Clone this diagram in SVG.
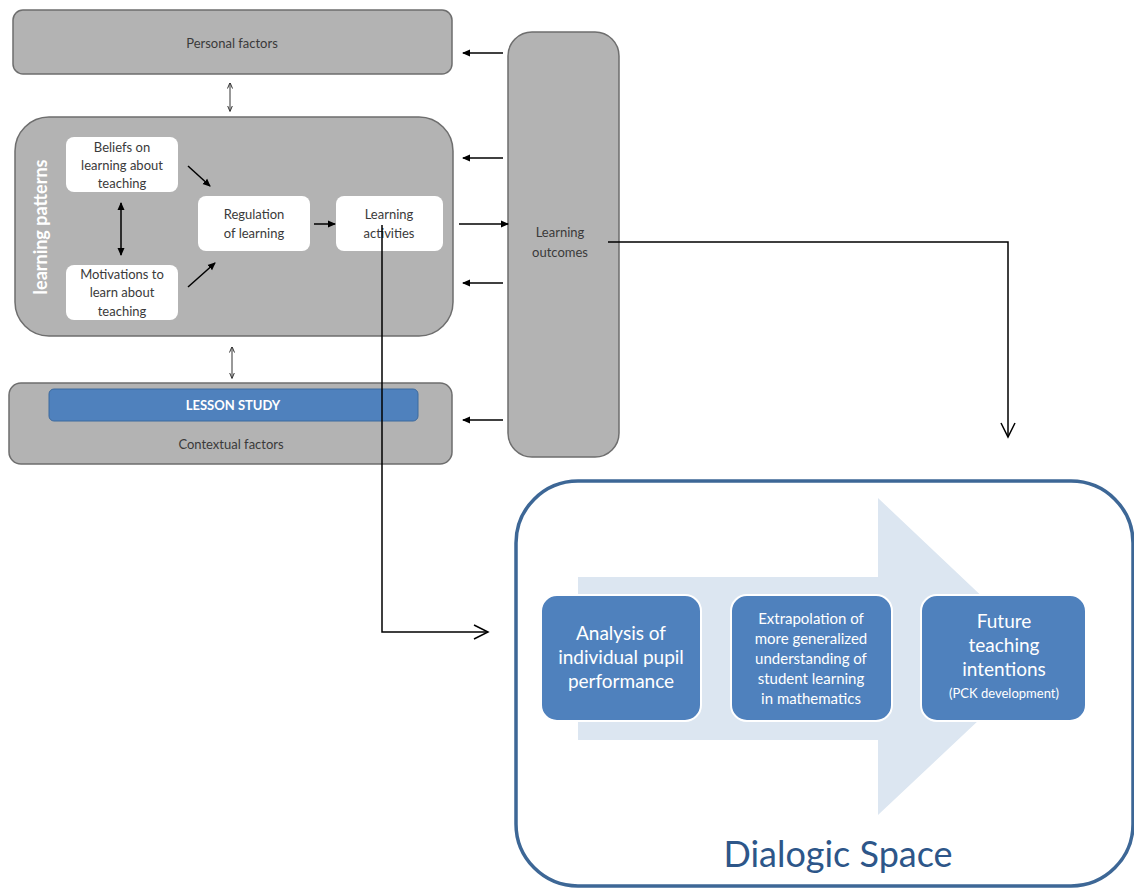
<svg xmlns="http://www.w3.org/2000/svg" width="1134" height="889" viewBox="0 0 1134 889">
<style>
.gray{fill:#b3b3b3;stroke:#6e6e6e;stroke-width:1.5}
.white{fill:#ffffff;stroke:none}
.t{font-family:Lato,"Liberation Sans",sans-serif;fill:#3a3a3a;text-anchor:middle}
.s{font-size:13px}
.b{font-family:Lato,"Liberation Sans",sans-serif;fill:#ffffff;text-anchor:middle;font-weight:bold}
.ln{stroke:#000;stroke-width:1.5;fill:none}
.thin{stroke:#333;stroke-width:1;fill:none}
</style>
<defs>
<marker id="ah" markerWidth="8" markerHeight="8" refX="7" refY="4" orient="auto" markerUnits="userSpaceOnUse"><path d="M0,0.5 L8,4 L0,7.5 Z" fill="#000"/></marker>
<marker id="ahs" markerWidth="6" markerHeight="6" refX="5.5" refY="3" orient="auto-start-reverse" markerUnits="userSpaceOnUse"><path d="M0,0.5 L6,3 L0,5.5" fill="none" stroke="#333" stroke-width="1"/></marker>
<marker id="ahb" markerWidth="8" markerHeight="8" refX="7" refY="4" orient="auto-start-reverse" markerUnits="userSpaceOnUse"><path d="M0,0.5 L8,4 L0,7.5 Z" fill="#000"/></marker>
<marker id="open" markerWidth="18" markerHeight="16" refX="16" refY="8" orient="auto" markerUnits="userSpaceOnUse"><path d="M2,1 L16,8 L2,15" fill="none" stroke="#000" stroke-width="1.5"/></marker>
</defs>

<g id="personal">
<rect class="gray" x="13" y="10" width="439" height="64" rx="10"/>
<text class="t s" x="232" y="48">Personal factors</text>
</g>

<g id="learning-patterns">
<rect class="gray" x="15" y="117" width="438" height="219" rx="34"/>
<text class="b" font-size="18" transform="translate(47,227) rotate(-90)">learning patterns</text>
</g>

<g id="beliefs">
<rect class="white" x="66" y="137" width="112" height="55" rx="8"/>
<text class="t s" x="122" y="152">Beliefs on</text>
<text class="t s" x="122" y="170">learning about</text>
<text class="t s" x="122" y="188">teaching</text>
</g>

<g id="motivations">
<rect class="white" x="66" y="265" width="112" height="55" rx="8"/>
<text class="t s" x="122" y="279">Motivations to</text>
<text class="t s" x="122" y="297">learn about</text>
<text class="t s" x="122" y="316">teaching</text>
</g>

<g id="regulation">
<rect class="white" x="198" y="196" width="112" height="55" rx="8"/>
<text class="t s" x="254" y="219">Regulation</text>
<text class="t s" x="254" y="238">of learning</text>
</g>

<g id="activities">
<rect class="white" x="336" y="196" width="107" height="55" rx="8"/>
<text class="t s" x="389" y="219">Learning</text>
<text class="t s" x="389" y="238">activities</text>
</g>

<g id="contextual">
<rect class="gray" x="9" y="383" width="443" height="81" rx="12"/>
<rect x="49" y="389" width="369" height="32" rx="5" fill="#4f81bd" stroke="#3d6a9e" stroke-width="1"/>
<text class="b" font-size="13" x="233" y="410">LESSON STUDY</text>
<text class="t s" x="231" y="449">Contextual factors</text>
</g>

<g id="outcomes">
<rect class="gray" x="508" y="32" width="111" height="425" rx="24"/>
<text class="t s" x="560" y="237">Learning</text>
<text class="t s" x="560" y="257">outcomes</text>
</g>

<g id="dialogic">
<rect x="516" y="481" width="617" height="405" rx="62" fill="#fff" stroke="#3d6796" stroke-width="3.5"/>
<path d="M578,577 L878,577 L878,498 L1046,657 L878,815 L878,740 L578,740 Z" fill="#dce6f1"/>
<rect x="541" y="595" width="160" height="126" rx="16" fill="#4f81bd" stroke="#fff" stroke-width="2"/>
<rect x="731" y="595" width="161" height="126" rx="16" fill="#4f81bd" stroke="#fff" stroke-width="2"/>
<rect x="921" y="595" width="165" height="126" rx="16" fill="#4f81bd" stroke="#fff" stroke-width="2"/>
<g font-family="Lato,'Open Sans','Liberation Sans',sans-serif" fill="#fff" text-anchor="middle">
<text x="621" y="640" font-size="19">Analysis of</text>
<text x="621" y="664" font-size="19">individual pupil</text>
<text x="621" y="688" font-size="19">performance</text>
<text x="811" y="624" font-size="15">Extrapolation of</text>
<text x="811" y="644" font-size="15">more generalized</text>
<text x="811" y="664" font-size="15">understanding of</text>
<text x="811" y="684" font-size="15">student learning</text>
<text x="811" y="704" font-size="15">in mathematics</text>
<text x="1004" y="628" font-size="19">Future</text>
<text x="1004" y="652" font-size="19">teaching</text>
<text x="1004" y="676" font-size="19">intentions</text>
<text x="1004" y="698" font-size="13">(PCK development)</text>
</g>
<text x="838" y="867" font-family="Lato,'Open Sans','Liberation Sans',sans-serif" font-size="36" fill="#2d5689" text-anchor="middle">Dialogic Space</text>
</g>

<g id="connectors">
<line class="thin" x1="230" y1="83" x2="230" y2="111" marker-start="url(#ahs)" marker-end="url(#ahs)"/>
<line class="thin" x1="232" y1="347" x2="232" y2="378" marker-start="url(#ahs)" marker-end="url(#ahs)"/>
<line class="ln" x1="121" y1="203" x2="121" y2="255" marker-start="url(#ahb)" marker-end="url(#ahb)"/>
<line class="ln" x1="188" y1="166" x2="210" y2="186" marker-end="url(#ah)"/>
<line class="ln" x1="188" y1="287" x2="215" y2="263" marker-end="url(#ah)"/>
<line class="ln" x1="314" y1="224" x2="335" y2="224" marker-end="url(#ah)"/>
<line class="ln" x1="459" y1="224" x2="508" y2="224" marker-end="url(#ah)"/>
<line class="ln" x1="503" y1="53" x2="463" y2="53" marker-end="url(#ah)"/>
<line class="ln" x1="503" y1="158" x2="463" y2="158" marker-end="url(#ah)"/>
<line class="ln" x1="503" y1="283" x2="463" y2="283" marker-end="url(#ah)"/>
<line class="ln" x1="503" y1="420" x2="463" y2="420" marker-end="url(#ah)"/>
<polyline class="ln" points="608,242 1008,242 1008,437" marker-end="url(#open)"/>
<polyline class="ln" points="382,225 382,632 488,632" marker-end="url(#open)"/>
</g>
</svg>
